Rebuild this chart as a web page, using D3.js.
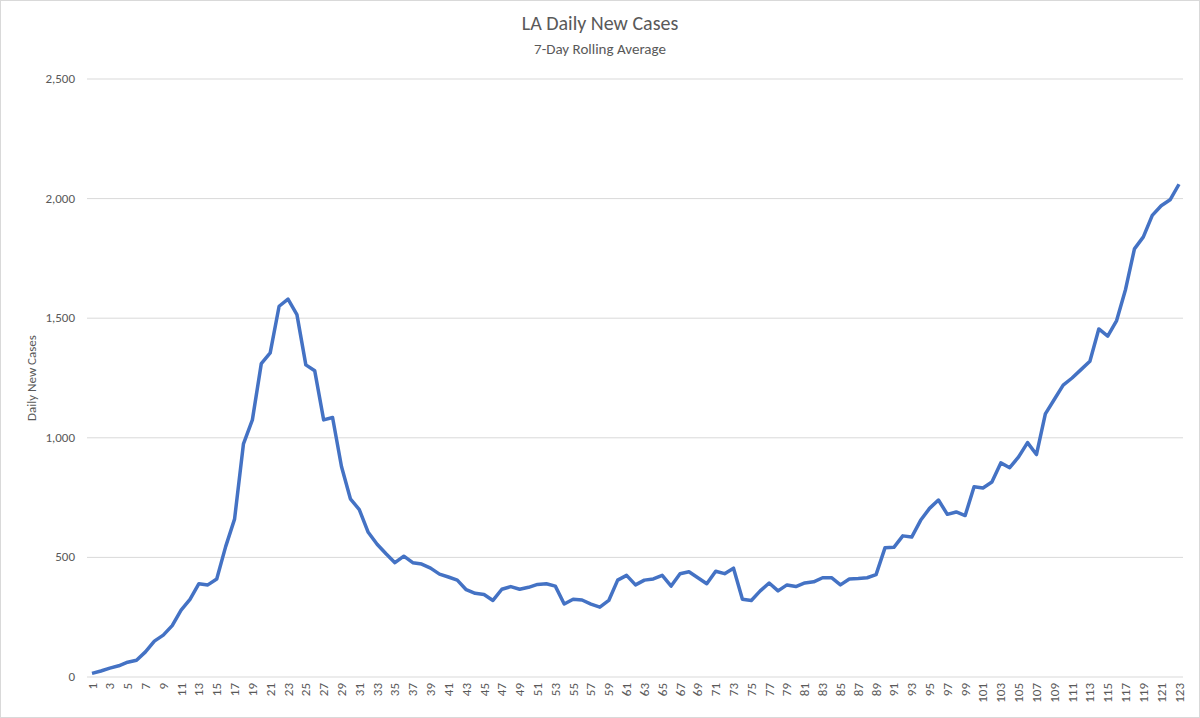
<!DOCTYPE html>
<html>
<head>
<meta charset="utf-8">
<script src="https://cdn.jsdelivr.net/npm/d3@7"></script>
<style>
body{margin:0;background:#fff;font-family:Calibri,Carlito,"Open Sans",sans-serif;}
</style>
</head>
<body>
<div id="chart"></div>
<script>
// daily new cases, 7-day rolling average
var cases = [15,25,37,47,62,70,105,150,175,215,280,325,390,385,410,545,660,975,1075,1310,
	1355,1550,1580,1515,1305,1280,1075,1085,880,745,700,605,555,515,478,505,478,472,455,430,
	418,405,365,350,345,320,367,378,367,375,387,390,380,305,325,322,305,292,320,405,
	425,385,405,410,425,380,432,440,415,390,442,432,455,325,320,360,393,360,385,378,
	393,398,415,415,385,410,412,415,428,540,542,590,585,655,705,740,680,690,675,795,
	790,815,895,875,920,980,930,1100,1160,1220,1250,1285,1320,1455,1425,1490,1620,1790,1840,1930,
	1970,1995,2060];
var days = d3.range(1, cases.length + 1);
var yTicks = [0,500,1000,1500,2000,2500];

var width = 1200, height = 718;
var margin = {top:79, right:17, bottom:41, left:87};

var svg = d3.select("#chart").append("svg")
	.attr("width", width)
	.attr("height", height);

svg.append("rect").attr("x",0.5).attr("y",0.5).attr("width",width-1).attr("height",height-1)
	.attr("fill","#fff").attr("stroke","#d9d9d9");

var x = d3.scalePoint().domain(days).range([margin.left+5, width-margin.right-4]);
var y = d3.scaleLinear().domain([0,2500]).range([height-margin.bottom, margin.top]);

//Gridlines
svg.append("g").selectAll("line").data(yTicks).enter().append("line")
	.attr("x1", margin.left).attr("x2", width-margin.right)
	.attr("y1", function(d){ return y(d); }).attr("y2", function(d){ return y(d); })
	.attr("stroke","#d9d9d9").attr("stroke-width",1);

var fmt = d3.format(",");
svg.append("g").selectAll("text").data(yTicks).enter().append("text")
	.attr("x", margin.left-12).attr("y", function(d){ return y(d)+4; })
	.attr("text-anchor","end").attr("font-size",13).attr("fill","#595959")
	.text(function(d){ return fmt(d); });

// x labels, every other day, rotated
svg.append("g").selectAll("text").data(days.filter(function(d){ return d % 2 === 1; })).enter().append("text")
	.attr("transform", function(d){ return "translate(" + (x(d)+4.5) + "," + (height-margin.bottom+6) + ") rotate(-90)"; })
	.attr("text-anchor","end").attr("font-size",13).attr("fill","#595959")
	.text(function(d){ return d; });

var line = d3.line()
	.x(function(d,i){ return x(days[i]); })
	.y(function(d){ return y(d); });

svg.append("path").datum(cases)
	.attr("d", line).attr("fill","none")
	.attr("stroke","#4472c4").attr("stroke-width",3.5).attr("stroke-linejoin","round");

svg.append("text").attr("x", width/2).attr("y", 30).attr("text-anchor","middle")
	.attr("font-size",20).attr("fill","#595959").text("LA Daily New Cases");
svg.append("text").attr("x", width/2).attr("y", 54).attr("text-anchor","middle")
	.attr("font-size",15).attr("fill","#595959").text("7-Day Rolling Average");
svg.append("text").attr("transform","translate(36," + (y(1250)) + ") rotate(-90)")
	.attr("text-anchor","middle").attr("font-size",13).attr("fill","#595959").text("Daily New Cases");
</script>
</body>
</html>
